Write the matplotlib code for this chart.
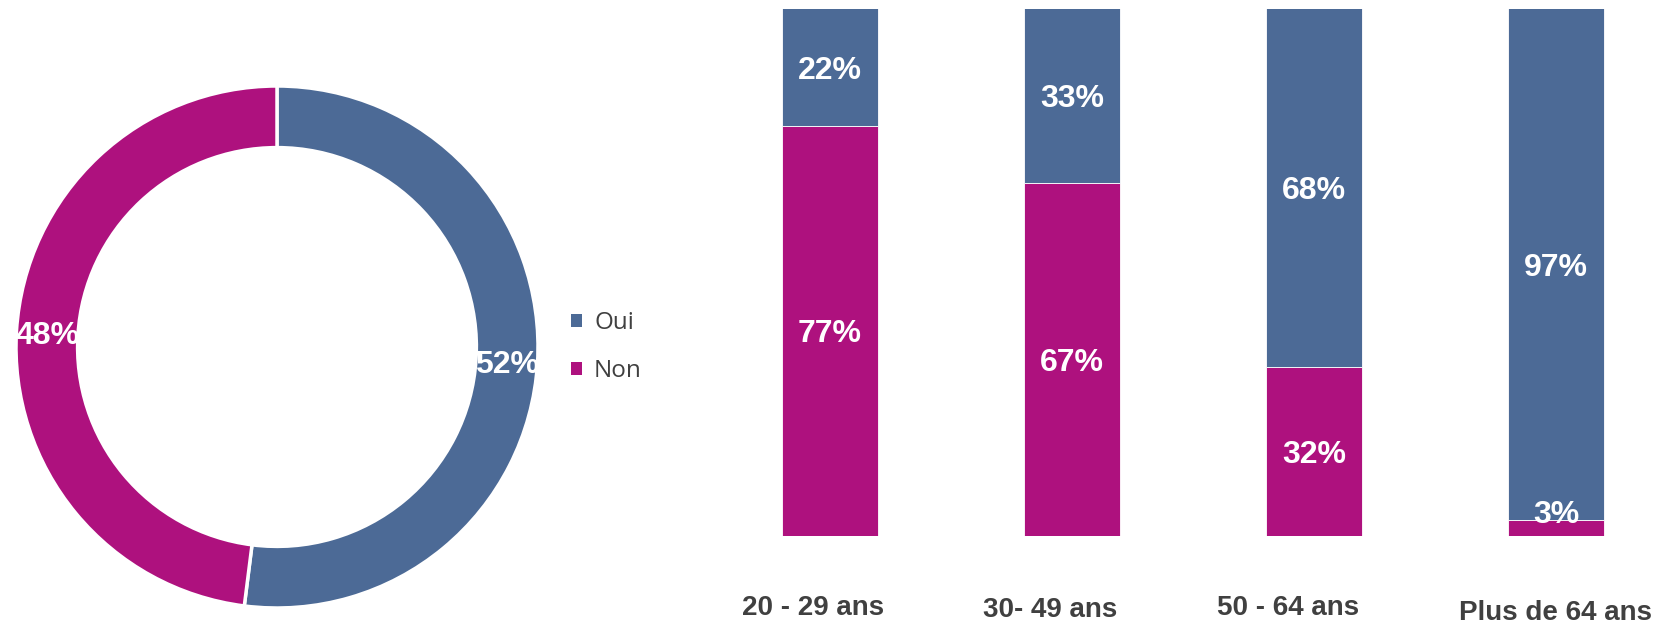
import matplotlib
matplotlib.use('Agg')
import matplotlib.pyplot as plt
from matplotlib.patches import Patch

# donut
rep_labels = ['Oui', 'Non']
rep_values = [52, 48]
# barres empilees par age
ages = ['20 - 29 ans', '30- 49 ans', '50 - 64 ans', 'Plus de 64 ans']
oui = [22, 33, 68, 97]
non = [77, 67, 32, 3]

bleu = '#4C6A96'
rose = '#AE117E'
gris = '#404040'

W, H = 1672, 628
fig = plt.figure(figsize=(W / 100, H / 100), dpi=100)

# ---- donut
ax1 = fig.add_axes([16 / W, 20 / H, 522 / W, 522 / H])
wedges, txt, autotxt = ax1.pie(rep_values, colors=[bleu, rose], startangle=90, counterclock=False,
                               radius=1, autopct='%d%%', pctdistance=0.882,
                               wedgeprops=dict(width=0.236, edgecolor='white', linewidth=2.5),
                               textprops=dict(color='white', fontsize=23, fontweight='bold',
                                              family='Liberation Sans'))
for t in autotxt:
    t.set_va('center_baseline')
ax1.set_xlim(-1, 1)
ax1.set_ylim(-1, 1)
ax1.set_aspect('equal')
ax1.axis('off')

handles = [Patch(facecolor=bleu, label=rep_labels[0]), Patch(facecolor=rose, label=rep_labels[1])]
leg = fig.legend(handles=handles, loc='center left', bbox_to_anchor=(571 / W, 1 - 347 / H),
                 frameon=False, borderpad=0, borderaxespad=0, handlelength=0.45, handleheight=0.45,
                 handletextpad=0.5, labelspacing=1.0, prop=dict(family='Open Sans', size=17.5))
for t in leg.get_texts():
    t.set_color(gris)

# ---- barres 100%
ax2 = fig.add_axes([700 / W, (H - 536) / H, 960 / W, 527.5 / H])
x = list(range(len(ages)))
tot = [o + n for o, n in zip(oui, non)]
p_non = [100 * n / t for n, t in zip(non, tot)]
p_oui = [100 * o / t for o, t in zip(oui, tot)]
ax2.bar(x, p_non, width=0.397, color=rose, edgecolor='white', linewidth=0.6)
ax2.bar(x, p_oui, width=0.397, bottom=p_non, color=bleu, edgecolor='white', linewidth=0.6)

for i in x:
    yn = max(p_non[i] / 2, 4.6)
    ax2.text(i, yn, '%d%%' % non[i], ha='center', va='center_baseline', color='white',
             fontsize=23, fontweight='bold', family='Liberation Sans')
    ax2.text(i, p_non[i] + p_oui[i] / 2, '%d%%' % oui[i], ha='center', va='center_baseline',
             color='white', fontsize=23, fontweight='bold', family='Liberation Sans')

# etiquettes des categories (un peu decalees comme dans l'original)
decal_x = [-0.07, -0.09, -0.105, 0.0]
decal_y = [0, -2, 0, -5]
for i in x:
    ax2.annotate(ages[i], (i + decal_x[i], 0), xycoords=('data', 'axes fraction'),
                 xytext=(0, -72 + decal_y[i]), textcoords='offset pixels', ha='center', va='center',
                 fontsize=20, fontweight='bold', color=gris, family='Liberation Sans')

ax2.set_xlim(-0.537, 3.43)
ax2.set_ylim(0, 100)
ax2.set_xticks([])
ax2.set_yticks([])
for s in ax2.spines.values():
    s.set_visible(False)

fig.savefig('out.png', dpi=100)
